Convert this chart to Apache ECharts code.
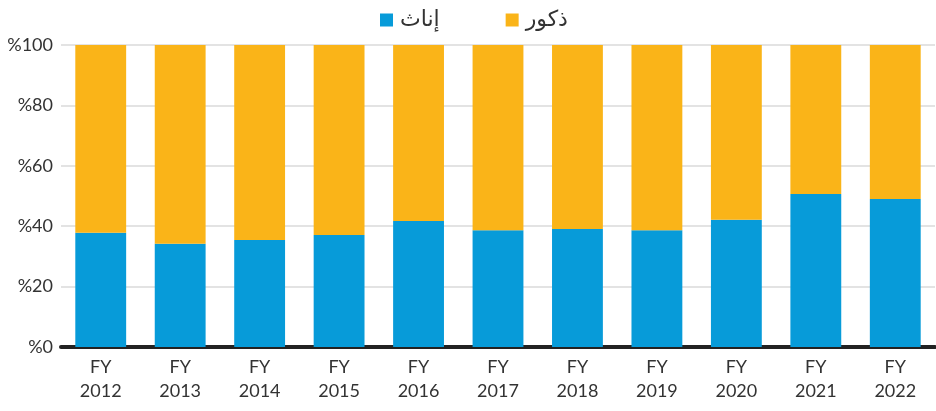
<!DOCTYPE html>
<html><head><meta charset="utf-8">
<script src="https://cdn.jsdelivr.net/npm/echarts@6/dist/echarts.min.js"></script>
<style>html,body{margin:0;padding:0;background:#fff}#c{width:936px;height:411px}</style>
</head><body><div id="c"></div>
<script>
var categories = ['FY\n2012','FY\n2013','FY\n2014','FY\n2015','FY\n2016','FY\n2017','FY\n2018','FY\n2019','FY\n2020','FY\n2021','FY\n2022'];
var femaleName = 'إناث';
var maleName = 'ذكور';
var female = [37.8, 34.2, 35.4, 37.1, 41.7, 38.7, 39.1, 38.7, 42.1, 50.7, 49.0];
var male = [62.2, 65.8, 64.6, 62.9, 58.3, 61.3, 60.9, 61.3, 57.9, 49.3, 51.0];
var yTicks = [0, 20, 40, 60, 80, 100];

var font = "Lato, 'DejaVu Sans', sans-serif";
var chart = echarts.init(document.getElementById('c'));
chart.setOption({
  animation: false,
  textStyle: {fontFamily: font},
  legend: {
    top: 4, left: 375,
    itemWidth: 13, itemHeight: 13, itemGap: 66,
    icon: 'rect',
    textStyle: {fontSize: 22, color: '#333', fontFamily: "'DejaVu Sans', sans-serif", padding: [0, 0, 0, 2]},
    data: [femaleName, maleName]
  },
  grid: {left: 61, right: 1, top: 45, bottom: 64},
  xAxis: {
    type: 'category', data: categories,
    axisLine: {lineStyle: {color: '#222', width: 4}},
    axisTick: {show: false},
    axisLabel: {fontSize: 18, color: '#333', lineHeight: 24, margin: 8, fontFamily: font}
  },
  yAxis: {
    type: 'value', min: yTicks[0], max: yTicks[yTicks.length-1], interval: 20,
    axisLine: {show: false}, axisTick: {show: false},
    splitLine: {lineStyle: {color: '#e3e3e3', width: 2}},
    axisLabel: {fontSize: 18, color: '#333', margin: 8, fontFamily: font,
      formatter: function(v){ return '%' + v; }}
  },
  series: [
    {name: femaleName, type: 'bar', stack: 'a', data: female, barWidth: '64%', itemStyle: {color: '#079BD9'}},
    {name: maleName, type: 'bar', stack: 'a', data: male, barWidth: '64%', itemStyle: {color: '#FAB418'}}
  ]
});
</script></body></html>
